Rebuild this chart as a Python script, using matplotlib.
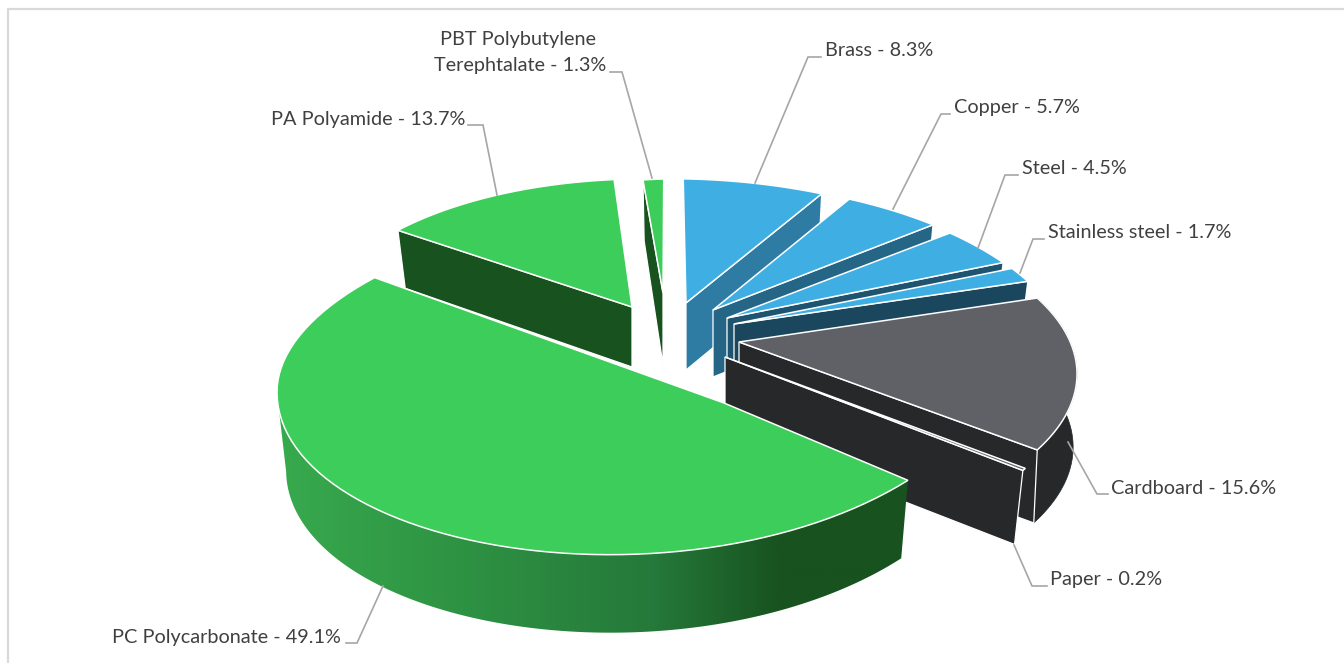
import numpy as np
import matplotlib
matplotlib.use("Agg")
import matplotlib.pyplot as plt
from matplotlib.colors import LinearSegmentedColormap
from matplotlib.patches import Polygon

# slices, clockwise from 12 o'clock
materials = ['Brass', 'Copper', 'Steel', 'Stainless steel', 'Cardboard', 'Paper',
             'PC Polycarbonate', 'PA Polyamide', 'PBT Polybutylene\nTerephtalate']
shares = [8.3, 5.7, 4.5, 1.7, 15.6, 0.2, 49.1, 13.7, 1.3]

top_colors = ['#3FAFE3', '#3FAFE3', '#3FAFE3', '#3FAFE3', '#606166', '#606166',
              '#3DCD5A', '#3DCD5A', '#3DCD5A']
wall_colors = ['#2E7BA3', '#256585', '#1E5470', '#1A475E', '#27282A', '#27282A',
               '#18521F', '#18521F', '#18521F']

# the picture is a skewed 3D render, so every slice gets its own frame (pixels)
frame_cx = [690, 690, 690, 690, 690, 690, 641, 690, 690]
frame_cy = [372, 375, 376, 375.5, 374, 372, 367, 373, 371.5]
frame_w = [387, 387, 387, 387, 387, 387, 364, 387, 387]
frame_h_far = [193, 193, 193, 193, 172, 193, 158, 193, 193]
frame_h_near = [193, 193, 193, 193, 172, 193, 187, 193, 193]
frame_g = [0.025, 0, 0, 0, 0, 0, -0.0687, 0.055, 0]
near_relax = [0, 0, 0, 0, 0, 0, 0.36, 0, 0]
twist = [-5.48, -8.5, -10.34, -11.04, -10.7, -8.8, 5.14, -0.85, -3.1]
sweep_k = [0.70, 0.712, 0.73, 0.735, 0.934, 1.0, 1.02, 0.765, 0.66]
apex_x = [686, 713, 727, 734, 739, 725, 724, 632, 663]
apex_y = [303, 310, 318, 324, 342, 357, 403, 307, 293]
depth = [67, 67, 67, 67, 73, 74, 78, 58, 61]
apex_depth = [67, 67, 67, 67, 73, 75, 78, 60, 72]
base_shrink = [0.975, 0.975, 0.975, 0.975, 0.99, 0.975, 0.975, 0.975, 0.975]
wall_side = ['end', 'end', 'end', 'end', 'end', 'end', 'end', 'start', 'start']

# label text anchor, then leader from slice to label
label_x = [825, 954, 1022, 1048, 1111, 1050, 341, 465, 606]
label_y = [51, 108, 168, 233, 488, 579, 637, 120, 53]
label_ha = ['left', 'left', 'left', 'left', 'left', 'left', 'right', 'right', 'right']
leaders = [[(755, 183), (808, 57), (821, 57)],
           [(893, 209), (941, 114), (950, 114)],
           [(978, 248), (1005, 175), (1018, 175)],
           [(1020, 273), (1033, 239), (1044, 239)],
           [(1068, 442), (1097, 494), (1108, 494)],
           [(1014, 545), (1032, 586), (1047, 586)],
           [(383, 586), (357, 643), (346, 643)],
           [(497, 195), (483, 125), (468, 125)],
           [(652, 178), (622, 72), (610, 72)]]

plt.rcParams['font.family'] = ['Lato', 'DejaVu Sans']
fig = plt.figure(figsize=(13.44, 6.63), dpi=100)
ax = fig.add_axes([0, 0, 1, 1])
ax.axis('off')

ax.plot([8, 8, 1344], [663, 8.5, 8.5], color='#D9D9D9', lw=1.6, zorder=1)

edges = np.cumsum([0] + shares) / sum(shares) * 360


def slice_angles(i, n=80):
    mid = (edges[i] + edges[i + 1]) / 2
    th = np.linspace(edges[i], edges[i + 1], n)
    return np.radians(mid + twist[i] + sweep_k[i] * (th - mid))


def frame_y(i, t):
    s, c = np.sin(t), np.cos(t)
    h = np.where(c > 0, frame_h_far[i], frame_h_near[i])
    lean = frame_g[i] * frame_w[i] * s * (1 + near_relax[i] * np.minimum(c, 0))
    return frame_cy[i] - h * c + lean


def top_points(i, t):
    return frame_cx[i] + frame_w[i] * np.sin(t), frame_y(i, t)


def base_points(i, t):
    return frame_cx[i] + base_shrink[i] * frame_w[i] * np.sin(t), frame_y(i, t) + depth[i]


def draw_cut_wall(i, z):
    t = slice_angles(i)
    t_edge = t[-1:] if wall_side[i] == 'end' else t[:1]
    tx, ty = top_points(i, t_edge)
    bx, by = base_points(i, t_edge)
    xs = [tx[0], apex_x[i], apex_x[i], bx[0]]
    ys = [ty[0], apex_y[i], apex_y[i] + apex_depth[i], by[0]]
    ax.fill(xs, ys, facecolor=wall_colors[i], edgecolor='white', lw=0.9, zorder=z)


def draw_top(i, z):
    x, y = top_points(i, slice_angles(i))
    xs = np.r_[apex_x[i], x]
    ys = np.r_[apex_y[i], y]
    ax.fill(xs, ys, facecolor=top_colors[i], edgecolor='white', lw=1.1,
            joinstyle='miter', zorder=z)


z = 2
# back slices first, each one hides part of the wall of the one before
for i in [8, 7, 0, 1, 2, 3]:
    draw_cut_wall(i, z)
    draw_top(i, z + 1)
    z += 2

# cardboard has a rounded outer wall too
t = slice_angles(4)
tx, ty = top_points(4, t)
bx, by = base_points(4, t)
ax.fill(np.r_[tx, bx[::-1]], np.r_[ty, by[::-1]], facecolor=wall_colors[4],
        edgecolor=wall_colors[4], lw=0.5, zorder=z)
draw_cut_wall(4, z + 1)
draw_top(4, z + 2)
z += 3
draw_cut_wall(5, z)
draw_top(5, z + 1)
z += 2

# PC outer wall: horizontal gradient clipped to the wall outline
shade = LinearSegmentedColormap.from_list(
    'pc_wall', [(0, '#38AB4E'), (0.30, '#2E9243'), (0.60, '#25793A'),
                (0.80, '#18521F'), (1, '#18521F')])
t = slice_angles(6, 300)
t = t[t < np.radians(270)]
tx, ty = top_points(6, t)
bx, by = base_points(6, t)
wall_outline = Polygon(np.c_[np.r_[tx, bx[::-1]], np.r_[ty, by[::-1]]], closed=True,
                       transform=ax.transData, facecolor='none', edgecolor='none')
ax.add_patch(wall_outline)
ramp = np.linspace(0, 1, 256).reshape(1, -1)
grad = ax.imshow(ramp, cmap=shade, extent=(270, 910, 640, 380), aspect='auto', zorder=z)
grad.set_clip_path(wall_outline)
z += 1
draw_top(6, z)
z += 1

for name, share, lx, ly, ha, pts in zip(materials, shares, label_x, label_y, label_ha, leaders):
    ax.plot([p[0] for p in pts], [p[1] for p in pts], color='#A6A6A6', lw=1.2, zorder=z,
            solid_joinstyle='miter')
    if '\n' in name:
        first, second = name.split('\n')
        ax.text(518, 40, first, ha='center', va='center', fontsize=14.3, color='#404040', zorder=z)
        ax.text(lx, 66, '%s - %.1f%%' % (second, share), ha=ha, va='center', fontsize=14.3,
                color='#404040', zorder=z)
    else:
        ax.text(lx, ly, '%s - %.1f%%' % (name, share), ha=ha, va='center', fontsize=14.3,
                color='#404040', zorder=z)

ax.set_xlim(0, 1344)
ax.set_ylim(663, 0)

fig.savefig('out.png', dpi=100, facecolor='white')
